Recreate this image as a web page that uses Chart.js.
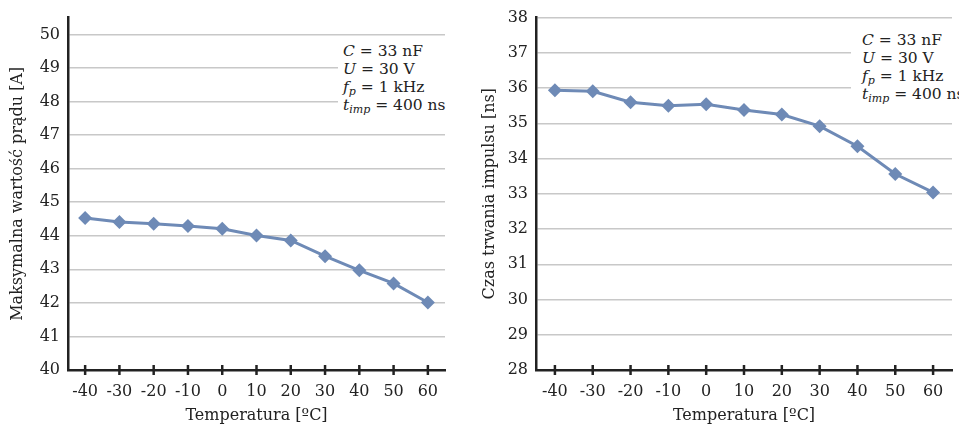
<!DOCTYPE html>
<html>
<head>
<meta charset="utf-8">
<script src="https://cdn.jsdelivr.net/npm/chart.js@4/dist/chart.umd.min.js"></script>
<style>
  html, body { margin: 0; padding: 0; background: #fff; }
  #wrap { position: relative; width: 959px; height: 428px; overflow: hidden; }
  .box { position: absolute; top: 0; height: 428px; }
  .note { position: absolute; background: #fff; font-family: "DejaVu Serif", serif; font-size: 15.5px; line-height: 18px; color: #222; white-space: nowrap; }
  .note sub { font-size: 11px; vertical-align: -3px; line-height: 0; }
</style>
</head>
<body>
<div id="wrap">
  <div class="box" style="left:0;width:479px;"><canvas id="c1"></canvas></div>
  <div class="box" style="left:479px;width:480px;"><canvas id="c2"></canvas></div>
  <div class="note" style="left:338px;top:38px;width:121px;height:78px;padding:4px 0 0 5px;box-sizing:border-box;">
    <i>C</i> = 33 nF<br><i>U</i> = 30 V<br><i>f<sub>p</sub></i> = 1 kHz<br><i>t<sub>imp</sub></i> = 400 ns
  </div>
  <div class="note" style="left:851px;top:25px;width:108px;height:83px;padding:6px 0 0 11px;box-sizing:border-box;">
    <i>C</i> = 33 nF<br><i>U</i> = 30 V<br><i>f<sub>p</sub></i> = 1 kHz<br><i>t<sub>imp</sub></i> = 400 ns
  </div>
</div>
<script>
const temperatures = ['-40', '-30', '-20', '-10', '0', '10', '20', '30', '40', '50', '60'];
const maxCurrent = [44.53, 44.41, 44.36, 44.29, 44.21, 44.01, 43.86, 43.39, 42.97, 42.58, 42.01];
const pulseDuration = [35.94, 35.91, 35.60, 35.50, 35.54, 35.38, 35.25, 34.92, 34.35, 33.56, 33.04];
const xTitle = 'Temperatura [ºC]';
const yTitleLeft = 'Maksymalna wartość prądu [A]';
const yTitleRight = 'Czas trwania impulsu [ns]';

const FONT = { family: '"DejaVu Serif", serif', size: 16, lineHeight: 1.2 };
const DARK = '#222222';
const LINE = '#6e8ab6';

const crossTicks = {
  id: 'crossTicks',
  afterDraw(chart) {
    const x = chart.scales.x, ctx = chart.ctx, b = chart.chartArea.bottom;
    ctx.save();
    ctx.strokeStyle = DARK;
    ctx.lineWidth = 2.5;
    x.ticks.forEach((t, i) => {
      const px = x.getPixelForTick(i);
      ctx.beginPath();
      ctx.moveTo(px, b - 5);
      ctx.lineTo(px, b + 5);
      ctx.stroke();
    });
    ctx.restore();
  }
};

function makeChart(id, values, yMin, yMax, yTitle, yWidth, titlePad, padding) {
  return new Chart(document.getElementById(id), {
    type: 'line',
    data: {
      labels: temperatures,
      datasets: [{
        data: values,
        borderColor: LINE,
        backgroundColor: LINE,
        borderWidth: 3,
        pointStyle: 'rectRot',
        pointRadius: 7,
        pointBorderWidth: 0,
        tension: 0
      }]
    },
    options: {
      responsive: true,
      maintainAspectRatio: false,
      animation: false,
      layout: { padding: padding },
      plugins: { legend: { display: false }, tooltip: { enabled: false } },
      scales: {
        x: {
          type: 'category',
          offset: true,
          grid: { display: true, drawOnChartArea: false, drawTicks: false },
          border: { display: true, color: DARK, width: 2.5 },
          ticks: { color: DARK, font: FONT, padding: 12, maxRotation: 0, autoSkip: false },
          title: { display: true, text: xTitle, color: DARK, font: FONT, padding: { top: 0, bottom: 3 } },
          afterFit(s) { s.height = 58; }
        },
        y: {
          min: yMin,
          max: yMax,
          grid: { color: '#c8c8c8', lineWidth: 1.5, drawTicks: false },
          border: { display: true, color: DARK, width: 2.5 },
          ticks: { stepSize: 1, includeBounds: false, color: DARK, font: FONT, padding: 8 },
          title: { display: true, text: yTitle, color: DARK, font: FONT, padding: { top: titlePad, bottom: 0 } },
          afterFit(s) { s.width = yWidth; }
        }
      }
    },
    plugins: [crossTicks]
  });
}

makeChart('c1', maxCurrent, 40, 50.5, yTitleLeft, 68, 8, { top: 13, right: 34, left: 0, bottom: 0 });
makeChart('c2', pulseDuration, 28, 38, yTitleRight, 57, 1, { top: 16, right: 1, left: 0, bottom: 0 });
</script>
</body>
</html>
